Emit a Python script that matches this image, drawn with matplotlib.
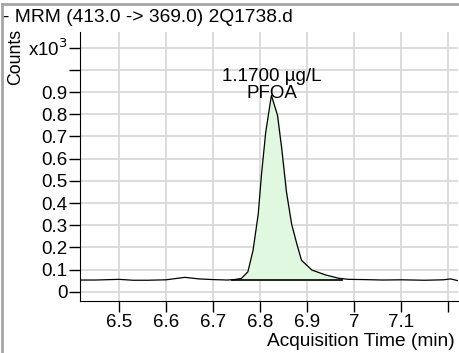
import numpy as np
import matplotlib
matplotlib.use("Agg")
import matplotlib.pyplot as plt

plt.rcParams['font.family'] = ['Liberation Sans', 'DejaVu Sans']

# chromatogram trace, counts in x10^3
time_min = [6.417, 6.45, 6.50, 6.53, 6.56, 6.60, 6.64, 6.67, 6.70, 6.73,
            6.745, 6.76, 6.774, 6.785, 6.796, 6.803, 6.812, 6.824, 6.837,
            6.846, 6.856, 6.867, 6.878, 6.888, 6.91, 6.939, 6.967, 6.988,
            7.02, 7.06, 7.10, 7.15, 7.19, 7.205, 7.221]
counts = [0.053, 0.053, 0.056, 0.052, 0.052, 0.054, 0.065, 0.058, 0.055, 0.053,
          0.055, 0.060, 0.090, 0.187, 0.350, 0.530, 0.720, 0.885, 0.795,
          0.645, 0.450, 0.305, 0.216, 0.142, 0.098, 0.076, 0.061, 0.056,
          0.055, 0.053, 0.054, 0.052, 0.054, 0.058, 0.050]

peak_start, peak_end = 6.74, 6.975
baseline_level = 0.053

x_ticks = [6.5, 6.6, 6.7, 6.8, 6.9, 7.0, 7.1, 7.2]
x_labels = ['6.5', '6.6', '6.7', '6.8', '6.9', '7', '7.1', '']
y_ticks = [0, 0.1, 0.2, 0.3, 0.4, 0.5, 0.6, 0.7, 0.8, 0.9, 1.0, 1.1]
y_labels = ['0', '0.1', '0.2', '0.3', '0.4', '0.5', '0.6', '0.7', '0.8', '0.9', '', 'x10$^3$']

fig = plt.figure(figsize=(4.59, 3.53), dpi=100)
ax = fig.add_axes([0.1743, 0.147, 0.8237, 0.762])

t = np.array(time_min)
c = np.array(counts)
mask = (t >= peak_start) & (t <= peak_end)
tp = np.concatenate(([peak_start], t[mask], [peak_end]))
cp = np.concatenate(([np.interp(peak_start, t, c)], c[mask], [np.interp(peak_end, t, c)]))
ax.fill_between(tp, baseline_level, cp, color='#dff8df', zorder=2)
ax.plot([peak_start, peak_end], [baseline_level, baseline_level], color='black', lw=1.2, zorder=3)
ax.plot(t, c, color='black', lw=0.9, zorder=4)

ax.set_xlim(6.417, 7.221)
ax.set_ylim(-0.042, 1.170)
ax.set_xticks(x_ticks)
ax.set_xticklabels(x_labels)
ax.set_yticks(y_ticks)
ax.set_yticklabels(y_labels)
ax.tick_params(labelsize=13.5, length=8, width=1, pad=1)
ax.grid(True, color='#d9d9d9', lw=1.3, zorder=0)
ax.set_axisbelow(True)
for s in ['top', 'right']:
    ax.spines[s].set_visible(False)

ax.text(6.825, 0.97, '1.1700 µg/L', ha='center', va='center', fontsize=13.5)
ax.text(6.825, 0.895, 'PFOA', ha='center', va='center', fontsize=13.5)

fig.text(3 / 459, 1 - 17 / 353, '- MRM (413.0 -> 369.0) 2Q1738.d', ha='left', va='center', fontsize=13.8)
fig.text(16 / 459, 1 - 57 / 353, 'Counts', rotation=90, ha='center', va='center', fontsize=12.8)
fig.text(455 / 459, 1 - 341 / 353, 'Acquisition Time (min)', ha='right', va='center', fontsize=13.8)

# outer frame (top and left edges)
fig.add_artist(plt.Line2D([2 / 459, 2 / 459], [0, 1 - 4 / 353], transform=fig.transFigure, color='#a6a6a6', lw=2))
fig.add_artist(plt.Line2D([2 / 459, 1], [1 - 4 / 353, 1 - 4 / 353], transform=fig.transFigure, color='#a6a6a6', lw=2))

fig.savefig('out.png', dpi=100)
